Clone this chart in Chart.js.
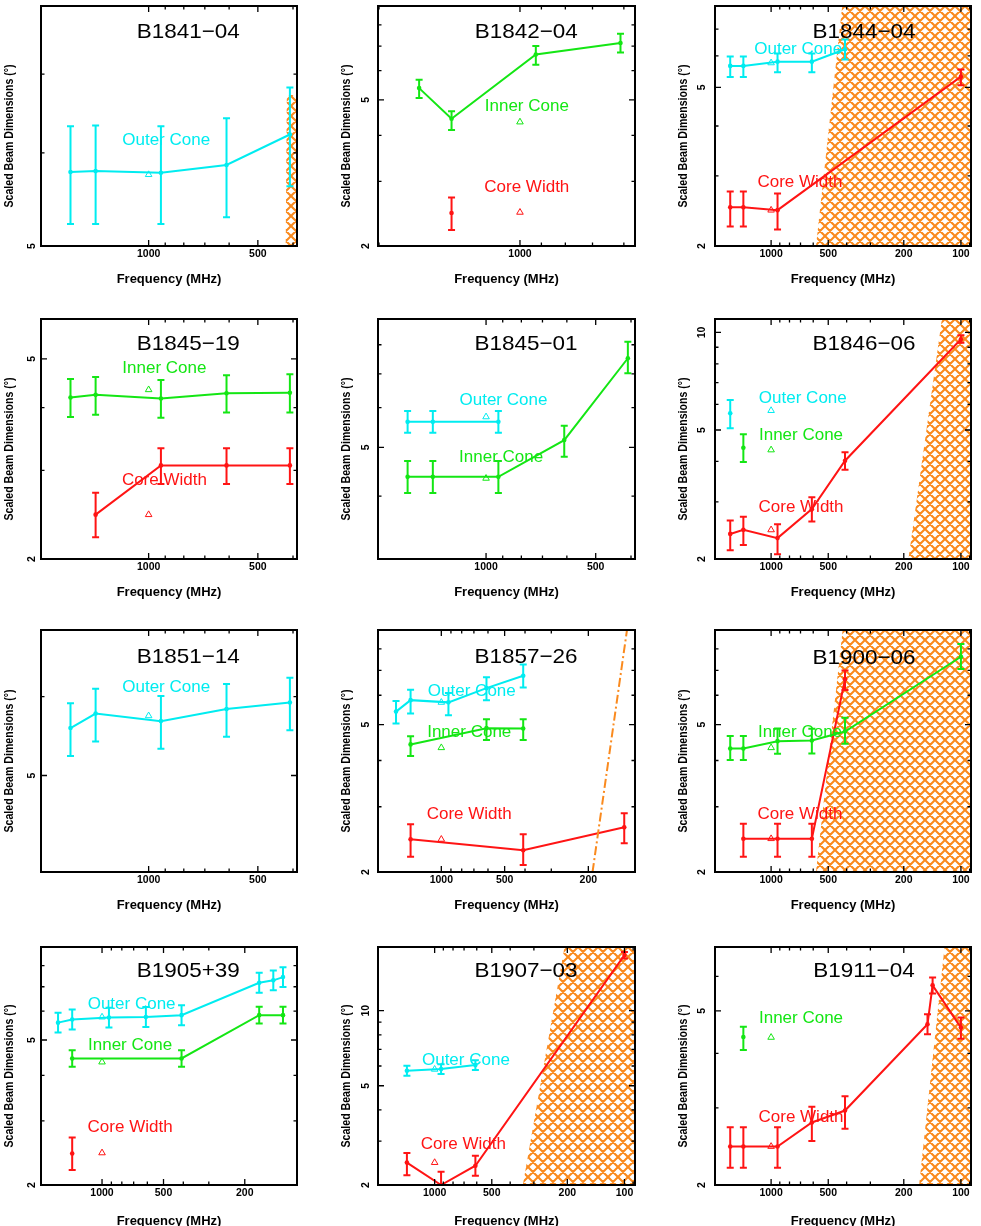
<!DOCTYPE html>
<html><head><meta charset="utf-8">
<script src="https://cdn.jsdelivr.net/npm/chart.js@4/dist/chart.umd.min.js"></script>
<style>
html,body{margin:0;padding:0;background:#fff;}
#wrap{position:relative;width:981px;height:1226px;overflow:hidden;background:#fff;}
canvas{position:absolute;}
</style></head><body><div id="wrap"></div>
<script>
// ---------------- DATA ----------------
const panelTitles = ['B1841−04','B1842−04','B1844−04','B1845−19','B1845−01','B1846−06',
                     'B1851−14','B1857−26','B1900−06','B1905+39','B1907−03','B1911−04'];
const xTickVals = [80,90,100,200,300,400,500,600,700,800,900,1000,2000];
const xLabelVals = [100,200,500,1000];
const yTickVals = [2,3,4,5,6,7,8,9,10,20];
const yLabelVals = [2,5,10];
const triFreq = 1000;

// B1841-04
const p1OuterFreq = [1642,1400,925,610,408];
const p1OuterVal  = [5.78,5.79,5.77,5.86,6.22];
const p1OuterLo   = [5.22,5.22,5.22,5.29,5.62];
const p1OuterHi   = [6.32,6.33,6.32,6.42,6.82];
const p1Tri = [5.75];
const p1HatchFreq = [419,416,300,300];
const p1HatchVal  = [5,6.72,6.72,5];

// B1842-04
const p2InnerFreq = [1642,1400,925,610];
const p2InnerVal  = [5.38,4.44,6.64,7.14];
const p2InnerLo   = [5.06,4.14,6.23,6.73];
const p2InnerHi   = [5.67,4.65,7.00,7.56];
const p2CoreFreq = [1400];
const p2CoreVal  = [2.46];
const p2CoreLo   = [2.21];
const p2CoreHi   = [2.71];
const p2Tri = [4.35,2.47];

// B1844-04
const p3OuterFreq = [1642,1400,925,610,408];
const p3OuterVal  = [5.66,5.66,5.80,5.80,6.23];
const p3OuterLo   = [5.31,5.31,5.46,5.46,5.87];
const p3OuterHi   = [5.98,5.98,6.08,6.08,6.59];
const p3CoreFreq = [1642,1400,925,100];
const p3CoreVal  = [2.50,2.50,2.46,5.32];
const p3CoreLo   = [2.24,2.24,2.20,5.06];
const p3CoreHi   = [2.74,2.74,2.71,5.54];
const p3Tri = [5.76,2.46];
const p3HatchFreq = [580,422,60,60];
const p3HatchVal  = [2,8,8,2];

// B1845-19
const p4InnerFreq = [1642,1400,925,610,408];
const p4InnerVal  = [4.19,4.24,4.17,4.27,4.28];
const p4InnerLo   = [3.83,3.87,3.82,3.91,3.91];
const p4InnerHi   = [4.56,4.60,4.54,4.64,4.66];
const p4CoreFreq = [1400,925,610,408];
const p4CoreVal  = [2.45,3.07,3.07,3.07];
const p4CoreLo   = [2.21,2.82,2.82,2.82];
const p4CoreHi   = [2.71,3.32,3.32,3.32];
const p4Tri = [4.34,2.45];

// B1845-01
const p5OuterFreq = [1642,1400,925];
const p5OuterVal  = [5.62,5.62,5.62];
const p5OuterLo   = [5.35,5.35,5.35];
const p5OuterHi   = [5.91,5.91,5.91];
const p5InnerFreq = [1642,1400,925,610,408];
const p5InnerVal  = [4.37,4.37,4.37,5.17,7.52];
const p5InnerLo   = [4.06,4.06,4.06,4.79,7.02];
const p5InnerHi   = [4.70,4.70,4.70,5.52,8.11];
const p5Tri = [5.75,4.34];

// B1846-06
const p6OuterFreq = [1642];
const p6OuterVal  = [5.63];
const p6OuterLo   = [5.06];
const p6OuterHi   = [6.19];
const p6InnerFreq = [1400];
const p6InnerVal  = [4.41];
const p6InnerLo   = [3.98];
const p6InnerHi   = [4.85];
const p6CoreFreq = [1642,1400,925,610,408,100];
const p6CoreVal  = [2.39,2.46,2.32,2.85,4.02,9.53];
const p6CoreLo   = [2.13,2.21,2.07,2.61,3.77,9.30];
const p6CoreHi   = [2.63,2.70,2.56,3.10,4.27,9.80];
const p6Tri = [5.74,4.34,2.46];
const p6HatchFreq = [189,126,60,60];
const p6HatchVal  = [2,11,11,2];

// B1851-14
const p7OuterFreq = [1642,1400,925,610,408];
const p7OuterVal  = [5.58,5.77,5.67,5.83,5.92];
const p7OuterLo   = [5.23,5.41,5.32,5.47,5.55];
const p7OuterHi   = [5.91,6.11,6.01,6.18,6.27];
const p7Tri = [5.74];

// B1857-26
const p8OuterFreq = [1642,1400,925,610,408];
const p8OuterVal  = [5.42,5.82,5.74,6.27,6.77];
const p8OuterLo   = [5.03,5.36,5.30,5.82,6.30];
const p8OuterHi   = [5.79,6.21,6.08,6.71,7.26];
const p8InnerFreq = [1400,610,408];
const p8InnerVal  = [4.42,4.89,4.88];
const p8InnerLo   = [4.11,4.54,4.54];
const p8InnerHi   = [4.65,5.17,5.17];
const p8CoreFreq = [1400,408,135];
const p8CoreVal  = [2.45,2.29,2.64];
const p8CoreLo   = [2.20,2.09,2.39];
const p8CoreHi   = [2.69,2.53,2.88];
const p8Tri = [5.74,4.33,2.45];
const p8LimitFreq = [191,131];
const p8LimitVal  = [2,9];

// B1900-06
const p9InnerFreq = [1642,1400,925,610,408,100];
const p9InnerVal  = [4.31,4.31,4.51,4.53,4.79,7.62];
const p9InnerLo   = [4.01,4.01,4.17,4.18,4.44,7.06];
const p9InnerHi   = [4.66,4.66,4.88,4.87,5.22,8.25];
const p9CoreFreq = [1400,925,610,408];
const p9CoreVal  = [2.46,2.46,2.46,6.63];
const p9CoreLo   = [2.20,2.20,2.20,6.20];
const p9CoreHi   = [2.70,2.70,2.70,7.00];
const p9Tri = [4.33,2.46];
const p9HatchFreq = [580,420,60,60];
const p9HatchVal  = [2,9,9,2];

// B1905+39
const p10OuterFreq = [1642,1400,925,610,408,170,145,130];
const p10OuterVal  = [5.58,5.69,5.76,5.78,5.85,7.18,7.29,7.44];
const p10OuterLo   = [5.24,5.34,5.41,5.43,5.49,6.74,6.85,6.99];
const p10OuterHi   = [5.94,6.06,6.13,6.16,6.23,7.65,7.76,7.92];
const p10InnerFreq = [1400,408,170,130];
const p10InnerVal  = [4.45,4.45,5.85,5.85];
const p10InnerLo   = [4.22,4.22,5.55,5.55];
const p10InnerHi   = [4.69,4.69,6.17,6.17];
const p10CoreFreq = [1400];
const p10CoreVal  = [2.44];
const p10CoreLo   = [2.20];
const p10CoreHi   = [2.70];
const p10Tri = [5.78,4.35,2.45];

// B1907-03
const p11OuterFreq = [1400,925,610];
const p11OuterVal  = [5.74,5.83,6.05];
const p11OuterLo   = [5.48,5.57,5.78];
const p11OuterHi   = [6.01,6.10,6.33];
const p11CoreFreq = [1400,925,610,100];
const p11CoreVal  = [2.46,2.00,2.39,16.7];
const p11CoreLo   = [2.19,1.80,2.18,16.2];
const p11CoreHi   = [2.69,2.26,2.62,17.2];
const p11Tri = [5.82,2.46];
const p11HatchFreq = [343,207,60,60];
const p11HatchVal  = [2,18,18,2];

// B1911-04
const p12InnerFreq = [1400];
const p12InnerVal  = [4.36];
const p12InnerLo   = [4.07];
const p12InnerHi   = [4.60];
const p12CoreFreq = [1642,1400,925,610,408,150,141,100];
const p12CoreVal  = [2.45,2.45,2.45,2.78,2.96,4.66,5.72,4.58];
const p12CoreLo   = [2.19,2.19,2.19,2.52,2.69,4.42,5.48,4.32];
const p12CoreHi   = [2.71,2.71,2.71,3.02,3.19,4.91,5.96,4.83];
const p12Tri = [4.35,2.45];
const p12HatchFreq = [166,122,60,60];
const p12HatchVal  = [2,7,7,2];

// ---------------- STYLE / LAYOUT ----------------
const CYAN = '#00ecf0', GREEN = '#14e614', RED = '#ff1414', ORANGE = '#fa8a1e';
const FONT = "'Liberation Sans', Arial, Helvetica, sans-serif";
Chart.defaults.font.family = FONT;
const COLS = [[41,256],[378,257],[715,256]];
const ROWS = [[6,240],[319,240],[630,242],[947,238]];
const XTITLE_PAD = [13.6,13.6,13.6,11.2];
const Y_TITLE = 'Scaled Beam Dimensions (°)';

const panels = [
 {xr:[390,1980], yr:[5,8], ypad:6.1,
  series:[[p1OuterFreq,p1OuterVal,p1OuterLo,p1OuterHi,CYAN]],
  tris:[[p1Tri[0],CYAN]], hatch:[p1HatchFreq,p1HatchVal],
  labels:[['Outer Cone',CYAN,0.489,0.558]], tpos:[0.575,0.110]},
 {xr:[568,2010], yr:[2,9], ypad:8.6,
  series:[[p2InnerFreq,p2InnerVal,p2InnerLo,p2InnerHi,GREEN],[p2CoreFreq,p2CoreVal,p2CoreLo,p2CoreHi,RED]],
  tris:[[p2Tri[0],GREEN],[p2Tri[1],RED]],
  labels:[['Inner Cone',GREEN,0.579,0.417],['Core Width',RED,0.579,0.757]], tpos:[0.577,0.110]},
 {xr:[88.5,1975], yr:[2,8], ypad:10.4,
  series:[[p3OuterFreq,p3OuterVal,p3OuterLo,p3OuterHi,CYAN],[p3CoreFreq,p3CoreVal,p3CoreLo,p3CoreHi,RED]],
  tris:[[p3Tri[0],CYAN],[p3Tri[1],RED]], hatch:[p3HatchFreq,p3HatchVal],
  labels:[['Outer Cone',CYAN,0.325,0.180],['Core Width',RED,0.332,0.736]], tpos:[0.582,0.110]},
 {xr:[390,1980], yr:[2,6], ypad:6.1,
  series:[[p4InnerFreq,p4InnerVal,p4InnerLo,p4InnerHi,GREEN],[p4CoreFreq,p4CoreVal,p4CoreLo,p4CoreHi,RED]],
  tris:[[p4Tri[0],GREEN],[p4Tri[1],RED]],
  labels:[['Inner Cone',GREEN,0.482,0.205],['Core Width',RED,0.482,0.674]], tpos:[0.575,0.105]},
 {xr:[390,1980], yr:[3,9], ypad:8.6,
  series:[[p5OuterFreq,p5OuterVal,p5OuterLo,p5OuterHi,CYAN],[p5InnerFreq,p5InnerVal,p5InnerLo,p5InnerHi,GREEN]],
  tris:[[p5Tri[0],CYAN],[p5Tri[1],GREEN]],
  labels:[['Outer Cone',CYAN,0.488,0.340],['Inner Cone',GREEN,0.479,0.578]], tpos:[0.576,0.105]},
 {xr:[88.5,1975], yr:[2,11], ypad:7.5,
  series:[[p6OuterFreq,p6OuterVal,p6OuterLo,p6OuterHi,CYAN],[p6InnerFreq,p6InnerVal,p6InnerLo,p6InnerHi,GREEN],[p6CoreFreq,p6CoreVal,p6CoreLo,p6CoreHi,RED]],
  tris:[[p6Tri[0],CYAN],[p6Tri[1],GREEN],[p6Tri[2],RED]], hatch:[p6HatchFreq,p6HatchVal],
  labels:[['Outer Cone',CYAN,0.343,0.330],['Inner Cone',GREEN,0.336,0.483],['Core Width',RED,0.336,0.785]], tpos:[0.582,0.105]},
 {xr:[390,1980], yr:[4,7], ypad:6.1,
  series:[[p7OuterFreq,p7OuterVal,p7OuterLo,p7OuterHi,CYAN]],
  tris:[[p7Tri[0],CYAN]],
  labels:[['Outer Cone',CYAN,0.489,0.237]], tpos:[0.575,0.114]},
 {xr:[120,2000], yr:[2,9], ypad:8.6,
  series:[[p8OuterFreq,p8OuterVal,p8OuterLo,p8OuterHi,CYAN],[p8InnerFreq,p8InnerVal,p8InnerLo,p8InnerHi,GREEN],[p8CoreFreq,p8CoreVal,p8CoreLo,p8CoreHi,RED]],
  tris:[[p8Tri[0],CYAN],[p8Tri[1],GREEN],[p8Tri[2],RED]], limit:[p8LimitFreq,p8LimitVal],
  labels:[['Outer Cone',CYAN,0.365,0.252],['Inner Cone',GREEN,0.355,0.423],['Core Width',RED,0.355,0.762]], tpos:[0.576,0.114]},
 {xr:[88.5,1975], yr:[2,9], ypad:10.4,
  series:[[p9InnerFreq,p9InnerVal,p9InnerLo,p9InnerHi,GREEN],[p9CoreFreq,p9CoreVal,p9CoreLo,p9CoreHi,RED]],
  tris:[[p9Tri[0],GREEN],[p9Tri[1],RED]], hatch:[p9HatchFreq,p9HatchVal],
  labels:[['Inner Cone',GREEN,0.332,0.423],['Core Width',RED,0.332,0.762]], tpos:[0.582,0.117]},
 {xr:[111,1990], yr:[2,9], ypad:6.1,
  series:[[p10OuterFreq,p10OuterVal,p10OuterLo,p10OuterHi,CYAN],[p10InnerFreq,p10InnerVal,p10InnerLo,p10InnerHi,GREEN],[p10CoreFreq,p10CoreVal,p10CoreLo,p10CoreHi,RED]],
  tris:[[p10Tri[0],CYAN],[p10Tri[1],GREEN],[p10Tri[2],RED]],
  labels:[['Outer Cone',CYAN,0.354,0.239],['Inner Cone',GREEN,0.348,0.412],['Core Width',RED,0.348,0.758]], tpos:[0.575,0.101]},
 {xr:[88,1988], yr:[2,18], ypad:5.7,
  series:[[p11OuterFreq,p11OuterVal,p11OuterLo,p11OuterHi,CYAN],[p11CoreFreq,p11CoreVal,p11CoreLo,p11CoreHi,RED]],
  tris:[[p11Tri[0],CYAN],[p11Tri[1],RED]], hatch:[p11HatchFreq,p11HatchVal],
  labels:[['Outer Cone',CYAN,0.342,0.475],['Core Width',RED,0.332,0.829]], tpos:[0.576,0.101]},
 {xr:[88.5,1975], yr:[2,7], ypad:10.4,
  series:[[p12InnerFreq,p12InnerVal,p12InnerLo,p12InnerHi,GREEN],[p12CoreFreq,p12CoreVal,p12CoreLo,p12CoreHi,RED]],
  tris:[[p12Tri[0],GREEN],[p12Tri[1],RED]], hatch:[p12HatchFreq,p12HatchVal],
  labels:[['Inner Cone',GREEN,0.336,0.300],['Core Width',RED,0.336,0.717]], tpos:[0.582,0.101]}
];

function hatchPattern(ctx){
  const s = 10, c = document.createElement('canvas');
  c.width = s; c.height = s;
  const g = c.getContext('2d');
  g.strokeStyle = ORANGE; g.lineWidth = 2.1; g.lineCap = 'square';
  g.beginPath();
  for (let k = -1; k <= 1; k++) {
    g.moveTo(k*s, 0); g.lineTo(k*s + s, s);
    g.moveTo(k*s, s); g.lineTo(k*s + s, 0);
  }
  g.stroke();
  return ctx.createPattern(c, 'repeat');
}

function makeDeco(spec, title) {
  return {
    id: 'deco',
    beforeDatasetsDraw(chart) {
      if (!spec.hatch) return;
      const {ctx, chartArea: a, scales: {x, y}} = chart;
      ctx.save();
      ctx.beginPath(); ctx.rect(a.left, a.top, a.right - a.left, a.bottom - a.top); ctx.clip();
      ctx.beginPath();
      spec.hatch[0].forEach((f, k) => {
        const px = x.getPixelForValue(f), py = y.getPixelForValue(spec.hatch[1][k]);
        if (k) ctx.lineTo(px, py); else ctx.moveTo(px, py);
      });
      ctx.closePath();
      ctx.fillStyle = hatchPattern(ctx);
      ctx.fill();
      ctx.restore();
    },
    afterDatasetsDraw(chart) {
      const {ctx, chartArea: a, scales: {x, y}} = chart;
      ctx.save();
      ctx.beginPath(); ctx.rect(a.left, a.top, a.right - a.left, a.bottom - a.top); ctx.clip();
      chart.data.datasets.forEach(ds => {
        if (!ds.errLo) return;
        ctx.strokeStyle = ds.borderColor; ctx.lineWidth = 2;
        ds.data.forEach((p, k) => {
          const px = x.getPixelForValue(p.x);
          const yl = y.getPixelForValue(ds.errLo[k]), yh = y.getPixelForValue(ds.errHi[k]);
          ctx.beginPath();
          ctx.moveTo(px, yl); ctx.lineTo(px, yh);
          ctx.moveTo(px - 3.5, yl); ctx.lineTo(px + 3.5, yl);
          ctx.moveTo(px - 3.5, yh); ctx.lineTo(px + 3.5, yh);
          ctx.stroke();
        });
      });
      ctx.restore();
      const w = a.right - a.left, h = a.bottom - a.top;
      ctx.save();
      ctx.textAlign = 'center'; ctx.textBaseline = 'middle';
      ctx.font = '17px ' + FONT;
      spec.labels.forEach(l => {
        ctx.fillStyle = l[1];
        ctx.fillText(l[0], a.left + l[2]*w, a.top + l[3]*h);
      });
      ctx.fillStyle = '#000';
      ctx.font = '21px ' + FONT;
      ctx.translate(a.left + spec.tpos[0]*w, a.top + spec.tpos[1]*h);
      ctx.scale(1.07, 1);
      ctx.fillText(title, 0, 0);
      ctx.restore();
    },
    afterDraw(chart) {
      const {ctx, chartArea: a, scales: {x, y}} = chart;
      ctx.save();
      ctx.strokeStyle = '#000'; ctx.lineWidth = 1.3;
      ctx.beginPath();
      x.ticks.forEach(t => {
        const px = x.getPixelForValue(t.value);
        const len = t.label ? 6 : 3.5;
        ctx.moveTo(px, a.bottom); ctx.lineTo(px, a.bottom - len);
        ctx.moveTo(px, a.top); ctx.lineTo(px, a.top + len);
      });
      y.ticks.forEach(t => {
        const py = y.getPixelForValue(t.value);
        const len = t.label ? 6 : 3.5;
        ctx.moveTo(a.left, py); ctx.lineTo(a.left + len, py);
        ctx.moveTo(a.right, py); ctx.lineTo(a.right - len, py);
      });
      ctx.stroke();
      ctx.lineWidth = 2;
      ctx.strokeRect(a.left, a.top, a.right - a.left, a.bottom - a.top);
      // y axis title
      ctx.fillStyle = '#000';
      ctx.font = 'bold 13px ' + FONT;
      ctx.textAlign = 'center'; ctx.textBaseline = 'middle';
      ctx.translate(a.left - 31.5, (a.top + a.bottom) / 2 + 10);
      ctx.rotate(-Math.PI / 2);
      ctx.fillText(Y_TITLE, 0, 0, 143);
      ctx.restore();
    }
  };
}

const wrap = document.getElementById('wrap');
const PADL = 50, PADT = 20, PADR = 20, PADB = 55;

panels.forEach((spec, i) => {
  const [L, W] = COLS[i % 3];
  const row = Math.floor(i / 3);
  const [T, H] = ROWS[row];
  const cv = document.createElement('canvas');
  cv.width = W + PADL + PADR; cv.height = H + PADT + PADB;
  cv.style.left = (L - PADL) + 'px'; cv.style.top = (T - PADT) + 'px';
  cv.style.width = cv.width + 'px'; cv.style.height = cv.height + 'px';
  wrap.appendChild(cv);

  const datasets = [];
  if (spec.limit) {
    datasets.push({data: spec.limit[0].map((f, k) => ({x: f, y: spec.limit[1][k]})),
      borderColor: ORANGE, borderWidth: 2, borderDash: [9, 3, 2, 3], pointRadius: 0, fill: false});
  }
  spec.series.forEach(s => {
    datasets.push({data: s[0].map((f, k) => ({x: f, y: s[1][k]})),
      errLo: s[2], errHi: s[3],
      borderColor: s[4], backgroundColor: s[4], borderWidth: 2,
      pointRadius: 2.3, pointBackgroundColor: s[4], pointBorderWidth: 0, fill: false});
  });
  spec.tris.forEach(t => {
    datasets.push({data: [{x: triFreq, y: t[0]}], showLine: false,
      pointStyle: 'triangle', pointRadius: 3.8, borderColor: t[1],
      pointBorderColor: t[1], pointBackgroundColor: 'rgba(0,0,0,0)', pointBorderWidth: 1});
  });

  const xr = spec.xr, yr = spec.yr;
  new Chart(cv, {
    type: 'line',
    data: {datasets},
    options: {
      responsive: false, animation: false, devicePixelRatio: 1,
      layout: {padding: {left: 0, top: PADT, right: PADR, bottom: 0}, autoPadding: false},
      plugins: {legend: {display: false}, tooltip: {enabled: false}},
      elements: {line: {tension: 0}},
      scales: {
        x: {
          type: 'logarithmic', reverse: true, min: xr[0], max: xr[1], position: 'bottom', bounds: 'data',
          grid: {display: false, drawTicks: false}, border: {display: false},
          afterBuildTicks: sc => { sc.ticks = xTickVals.filter(v => v >= xr[0] && v <= xr[1]).reverse().map(v => ({value: v})); },
          afterFit: sc => { sc.height = PADB; },
          ticks: {autoSkip: false, maxRotation: 0, minRotation: 0, padding: 2, color: '#000',
            font: {family: FONT, size: 10.5, weight: 'bold'},
            callback: v => xLabelVals.includes(v) ? String(v) : ''},
          title: {display: true, text: 'Frequency (MHz)', color: '#000',
            font: {family: FONT, size: 13, weight: 'bold'}, padding: {top: 0, bottom: XTITLE_PAD[row]}}
        },
        y: {
          type: 'logarithmic', min: yr[0], max: yr[1], position: 'left', bounds: 'data',
          grid: {display: false, drawTicks: false}, border: {display: false},
          afterBuildTicks: sc => { sc.ticks = yTickVals.filter(v => v >= yr[0] && v <= yr[1]).map(v => ({value: v})); },
          afterFit: sc => { sc.width = PADL; },
          ticks: {autoSkip: false, minRotation: 90, maxRotation: 90, crossAlign: 'center', padding: spec.ypad, color: '#000',
            font: {family: FONT, size: 10.5, weight: 'bold'},
            callback: v => yLabelVals.includes(v) ? String(v) : ''},
          title: {display: false}
        }
      }
    },
    plugins: [makeDeco(spec, panelTitles[i])]
  });
});
</script>
</body></html>
